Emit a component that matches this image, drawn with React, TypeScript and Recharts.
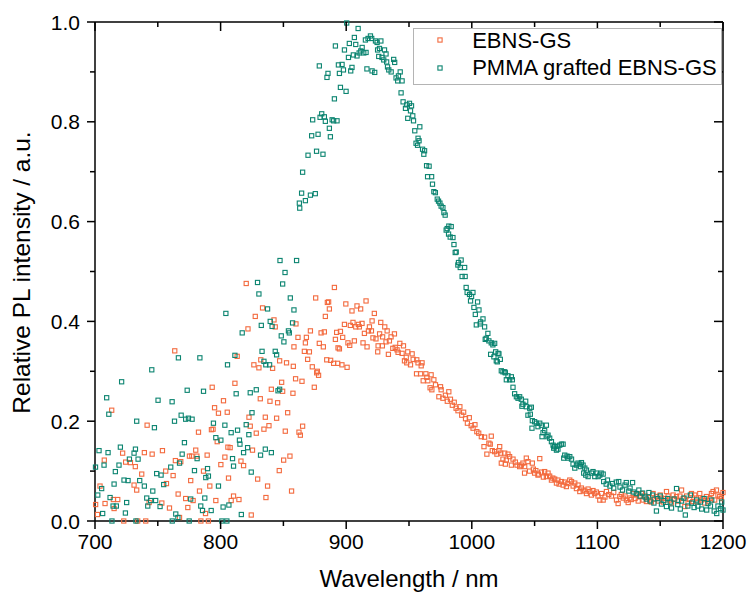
import React from 'react';
import { ScatterChart, Scatter, XAxis, YAxis, Legend } from 'recharts';

const FONT = '"Liberation Sans", Arial, Helvetica, sans-serif';

const seriesNames = ['EBNS-GS', 'PMMA grafted EBNS-GS'];
const seriesColors = ['#F36A3E', '#0B8470'];

const xTicks = [700, 750, 800, 850, 900, 950, 1000, 1050, 1100, 1150, 1200];
const yTicks = [0, 0.1, 0.2, 0.3, 0.4, 0.5, 0.6, 0.7, 0.8, 0.9, 1.0];

// EBNS-GS: [wavelength nm, relative intensity]
const ebnsLow: [number, number][] = [
  [700.5, 0.033], [702, 0.013], [704, 0.07], [707.4, 0.122], [708, 0.035], [713.3, 0.222], [714.6, 0.043],
  [715.2, 0.025], [718.1, 0.043], [722, 0.136], [722.9, 0], [724.4, 0.118], [728.2, 0.117], [731.1, 0.072],
  [732.1, 0.109], [733.2, 0.062], [734, 0], [737.2, 0.094], [739.3, 0.137], [740.4, 0], [741.5, 0.192],
  [743.1, 0.037], [745.5, 0.134], [753.2, 0.036], [753.7, 0.141], [756.3, 0.1], [756.9, 0.075], [759.3, 0.026],
  [762.2, 0.091], [763.5, 0.341], [764, 0.121], [766.2, 0.054], [767.3, 0.007], [768.3, 0.119], [772.2, 0.045],
  [773.9, 0.027], [775.2, 0.13], [776.2, 0.081], [777.1, 0.13], [778.1, 0.041], [780.2, 0.142], [781.1, 0.13],
  [782.4, 0.178], [783.2, 0.06], [784.3, 0], [786.4, 0.1], [788, 0.015], [789.3, 0.132], [790.3, 0], [791.4, 0.07],
  [792.7, 0.183], [793.3, 0.268], [794, 0.184], [795.2, 0.227], [796.2, 0.041], [797.3, 0.159], [798.3, 0.216],
  [800.2, 0.113],
];

const ebnsRise: [number, number][] = [
  [802.3, 0.241], [803.4, 0.128], [805.3, 0.218], [805.8, 0.148], [806.3, 0.086], [807.6, 0.147], [808.4, 0.041],
  [810.3, 0.05], [811.4, 0.276], [813.2, 0.33], [814.6, 0.043], [816.2, 0.12], [818.3, 0.111], [820.4, 0.476],
  [821.8, 0.385], [822.6, 0.208], [823.6, 0.19], [824.4, 0.012], [825.4, 0.142], [826.5, 0.313], [827.6, 0.41],
  [828.4, 0.176], [829.5, 0.084], [830.5, 0.307], [831.6, 0.245], [832, 0.323], [833.4, 0.427], [834.5, 0.184],
  [835.6, 0.208], [836.1, 0.047], [837.4, 0.07], [838.5, 0.191], [839.3, 0.24], [840.4, 0.264], [841.4, 0.306],
  [842.5, 0.403], [843.5, 0.389], [844.6, 0.206], [845.4, 0.237], [846.7, 0.101], [847, 0.321], [848.6, 0.278],
  [849.4, 0.26], [850.2, 0.122], [851.5, 0.18], [852.5, 0.317], [853.4, 0.217], [855.2, 0.13], [856.5, 0.06],
  [857.6, 0.256], [857.9, 0.31], [858.4, 0.349], [859.7, 0.285], [860, 0.395], [861.6, 0.368], [862.4, 0.178],
  [863.5, 0.172], [864.8, 0.28], [865.3, 0.19], [866.7, 0.34], [867.5, 0.357], [868.3, 0.368], [869.3, 0.324],
  [870.7, 0.339], [871.5, 0.381], [873, 0.309], [874.6, 0.268], [875.7, 0.447], [876.5, 0.297], [877, 0.3],
  [878, 0.292], [878.6, 0.356], [880, 0.377],
];

const ebnsPeak: [number, number][] = [
  [881.8, 0.349], [882.6, 0.379], [883.4, 0.41], [884.5, 0.323], [885, 0.438], [886.6, 0.425], [886, 0.439],
  [887.6, 0.322], [890, 0.316], [890.6, 0.468], [891.4, 0.364], [892.4, 0.378], [893.2, 0.316], [893.5, 0.347],
  [894.6, 0.345], [895.4, 0.38], [896.6, 0.313], [897.2, 0.368], [898.6, 0.394], [899.7, 0.435], [900.7, 0.308],
  [901.4, 0.357], [902.8, 0.352], [903.3, 0.392], [904.6, 0.421], [905.4, 0.398], [906.5, 0.361], [907.6, 0.389],
  [908.6, 0.431], [909.7, 0.394], [910.5, 0.389], [911.5, 0.425], [912.6, 0.396], [913.4, 0.357], [914.5, 0.376],
  [915.8, 0.441], [916.6, 0.349], [917.7, 0.381], [918.5, 0.389], [920.1, 0.381], [920.6, 0.401], [921.3, 0.367],
  [922.4, 0.416], [923.7, 0.365], [925.1, 0.339], [925.4, 0.351], [926.6, 0.375], [927.5, 0.398], [928.8, 0.351],
  [929, 0.369], [930.7, 0.389], [931.7, 0.359], [932.6, 0.381], [933.6, 0.334], [934.4, 0.361], [935.7, 0.369],
  [937.1, 0.346], [938.4, 0.375], [939, 0.348], [940.5, 0.343], [941.3, 0.338], [942.7, 0.356], [944.5, 0.336],
  [945.6, 0.351], [946.4, 0.321], [947.8, 0.328], [948.2, 0.317], [949, 0.339], [951.2, 0.313], [952.5, 0.335],
  [953.3, 0.324], [956, 0.295], [956.2, 0.323], [957.2, 0.317], [959.2, 0.295], [959.7, 0.311], [960.4, 0.317],
  [961.3, 0.281], [963.4, 0.295], [964.2, 0.288], [965, 0.281], [966.8, 0.267], [967.6, 0.293], [968.2, 0.263],
  [969.8, 0.283], [971.1, 0.273], [973.8, 0.249], [975.1, 0.269], [975.6, 0.263], [977, 0.246], [979, 0.252],
  [980.5, 0.24], [981.7, 0.259], [983, 0.244], [984.5, 0.232], [986, 0.238], [987.5, 0.226], [989, 0.221],
  [990.5, 0.229], [992, 0.212], [993.5, 0.218], [995, 0.205], [996.5, 0.196], [998, 0.207], [999.5, 0.191],
  [1001, 0.186], [1002.5, 0.193], [1004, 0.179], [1005.5, 0.176],
];

const ebnsTail: [number, number][] = [
  [1007.6, 0.169], [1009.7, 0.149], [1010.2, 0.168], [1012, 0.134], [1013.6, 0.156], [1014.7, 0.154], [1015.5, 0.17],
  [1016.3, 0.141], [1018.2, 0.139], [1020, 0.134], [1021.6, 0.141], [1022.2, 0.149], [1023, 0.136], [1023.5, 0.116],
  [1024.8, 0.124], [1026.2, 0.136], [1026.7, 0.114], [1027.5, 0.122], [1028.8, 0.134], [1030.1, 0.129], [1031.5, 0.112],
  [1032.8, 0.124], [1034.7, 0.118], [1036, 0.112], [1038.1, 0.109], [1039.4, 0.112], [1040.7, 0.116], [1042.1, 0.109],
  [1043.4, 0.126], [1044.7, 0.119], [1048.2, 0.116], [1054.1, 0.125], [1042, 0.096], [1046, 0.1], [1049, 0.104],
  [1050, 0.096], [1051, 0.101], [1052.7, 0.092], [1053, 0.094], [1055.5, 0.098], [1057, 0.088], [1058, 0.099],
  [1059.4, 0.089], [1060.7, 0.096], [1062, 0.09], [1063.4, 0.082], [1064.5, 0.086], [1066, 0.084], [1067.4, 0.076],
  [1068.6, 0.082], [1069.5, 0.074], [1071.4, 0.079], [1072.7, 0.072], [1074, 0.078], [1075.3, 0.069], [1076.5, 0.075],
  [1078, 0.082], [1079.4, 0.079], [1080.7, 0.07], [1082, 0.076], [1083.3, 0.065], [1084.6, 0.072], [1086, 0.059],
  [1087.3, 0.066], [1088.6, 0.062], [1090, 0.06], [1091.3, 0.055], [1092.6, 0.064], [1093.9, 0.059], [1095.2, 0.052],
  [1096.5, 0.061], [1097.9, 0.055], [1099.2, 0.058], [1100.5, 0.05], [1101.9, 0.042], [1103.3, 0.055], [1104.6, 0.042],
  [1106, 0.048], [1107.2, 0.059], [1109, 0.053], [1111.2, 0.05], [1113, 0.057], [1115.2, 0.042], [1116.5, 0.035],
  [1117.8, 0.049], [1119, 0.053], [1120.5, 0.046], [1122, 0.05], [1123.1, 0.042], [1124.5, 0.037], [1125.8, 0.046],
  [1127, 0.043], [1128.4, 0.055], [1130, 0.045], [1131.1, 0.052], [1132.5, 0.04], [1133.8, 0.049], [1135, 0.055],
  [1136.4, 0.042], [1138, 0.05], [1139, 0.039], [1140.5, 0.047], [1141.7, 0.042], [1143, 0.038], [1144.3, 0.055],
  [1145.7, 0.044], [1147, 0.049], [1148.5, 0.04], [1150, 0.052], [1151, 0.046], [1152.5, 0.038], [1154, 0.045],
  [1155, 0.059], [1156.3, 0.05], [1157.6, 0.042], [1159, 0.036], [1160.3, 0.052], [1161.6, 0.044], [1163, 0.049],
  [1164.4, 0.04], [1165.7, 0.05], [1167, 0.062], [1168.3, 0.045], [1169.6, 0.029], [1171, 0.05], [1172.2, 0.036],
  [1173.5, 0.043], [1174.9, 0.055], [1176, 0.039], [1177.5, 0.052], [1178.9, 0.046], [1180, 0.038], [1181.5, 0.055],
  [1182.9, 0.042], [1184, 0.045], [1185.5, 0.036], [1186.8, 0.049], [1188, 0.04], [1189.5, 0.045], [1190.8, 0.055],
  [1192.1, 0.059], [1193.4, 0.042], [1194.8, 0.062], [1196, 0.052], [1197.4, 0.049], [1198.7, 0.045], [1200, 0.057],
];

// PMMA grafted EBNS-GS
const pmmaLow: [number, number][] = [
  [700.4, 0.108], [702.2, 0.052], [703.2, 0.141], [705.3, 0.065], [706.1, 0.015], [707.2, 0.112], [709.3, 0.247],
  [710.4, 0.137], [711, 0.214], [712, 0.047], [713.5, 0], [714.4, 0.03], [715.2, 0.074], [716.2, 0.099], [717, 0.03],
  [719.1, 0.112], [720.2, 0.148], [721.2, 0.279], [723.1, 0.082], [724.2, 0.016], [725.2, 0.037], [726.3, 0.081],
  [727.4, 0.124], [731.1, 0.136], [732.2, 0.144], [732.6, 0], [733.2, 0.2], [734.3, 0.124], [735.6, 0.081],
  [739.3, 0.07], [741.2, 0.046], [742, 0.03], [744.3, 0.041], [745.2, 0.303], [746, 0.06], [747.3, 0.187],
  [748.3, 0.041], [749.1, 0.095], [750.2, 0.242], [751.8, 0.029], [752.6, 0.092], [754.7, 0.073], [760.3, 0.108],
  [761.4, 0.239], [761.5, 0], [763.3, 0.2], [764.3, 0.014], [766, 0.007], [766.4, 0.327], [767.3, 0.116],
  [768.6, 0.212], [769.4, 0.134], [771.2, 0.157], [772.2, 0.204], [773.4, 0.262], [774.4, 0.206], [775, 0],
  [776.2, 0.044], [777.3, 0.204], [779.2, 0.101], [781.3, 0.125], [783.5, 0.327], [784.2, 0.03], [785.6, 0.021],
  [786.4, 0.26], [787.4, 0.046], [788.2, 0.087], [789.6, 0.105], [790.3, 0.09], [792.5, 0.021], [794.3, 0.196],
  [796.2, 0.167], [798.3, 0.07], [800.2, 0.162],
];

const pmmaRise: [number, number][] = [
  [801, 0], [802, 0.028], [803.4, 0.192], [804.2, 0.416], [805, 0], [805.5, 0.313], [806.6, 0.032], [808.4, 0.177],
  [809.5, 0.125], [810.3, 0.11], [811.4, 0.332], [812.4, 0.255], [813.5, 0.182], [815, 0.162], [815.4, 0.154],
  [816.5, 0.013], [817.2, 0.377], [818.3, 0.137], [820.4, 0.193], [821.5, 0.147], [822.5, 0.173], [823.6, 0.257],
  [824.4, 0.098], [825, 0.217], [828.4, 0.263], [829.4, 0.478], [830.5, 0.455], [831.8, 0.132], [832.4, 0.392],
  [833, 0.34], [834.5, 0.32], [835.6, 0.144], [836, 0.313], [837.4, 0.425], [839, 0.313], [839.5, 0.4],
  [840.4, 0.137], [841, 0.39], [843.5, 0.34], [844.6, 0.333], [845.7, 0.261], [847, 0.264], [847.3, 0.522],
  [848.3, 0.371], [849.4, 0.475], [850.4, 0.359], [851.3, 0.498], [854, 0.381], [854.7, 0.377], [855.5, 0.447],
  [857.3, 0.397], [858.4, 0.423], [860.5, 0.522], [862.7, 0.637], [863, 0.627], [864.5, 0.657], [865.3, 0.699],
];

const pmmaPeak: [number, number][] = [
  [867.5, 0.642], [869.6, 0.733], [871.5, 0.653], [872.5, 0.772], [873.3, 0.804], [875.4, 0.656], [876.4, 0.741],
  [877.6, 0.775], [878.6, 0.912], [879.2, 0.809], [880.5, 0.816], [881.5, 0.735], [882.6, 0.81], [883.4, 0.801],
  [884.7, 0.889], [885.5, 0.897], [886.6, 0.787], [887.4, 0.77], [888.8, 0.804], [890, 0.802], [890.6, 0.846],
  [891.4, 0.952], [892.7, 0.802], [893.8, 0.914], [894.6, 0.897], [895.4, 0.869], [896.7, 0.915], [897.8, 0.904],
  [898.6, 0.944], [899.9, 0.861], [900.4, 0.998], [901.8, 0.929], [902.5, 0.957], [903.6, 0.902], [904.6, 0.909],
  [905.7, 0.934], [906.5, 0.969], [907.6, 0.955], [908.6, 0.932], [909.5, 0.987], [910.3, 0.938], [911.6, 0.942],
  [912.7, 0.949], [914, 0.938], [915.3, 0.964], [915.8, 0.939], [916.5, 0.906], [917.4, 0.967], [919.3, 0.972],
  [920.3, 0.967], [920.6, 0.902], [922.7, 0.899], [923.3, 0.962], [924.6, 0.959], [925, 0.944], [925.9, 0.931],
  [926.5, 0.947], [927.6, 0.962], [928.5, 0.929], [929.9, 0.924], [930.5, 0.944], [931.7, 0.936], [932.2, 0.92],
  [932.9, 0.91], [933.9, 0.904], [935.8, 0.9], [937.8, 0.925], [938.6, 0.919], [939.7, 0.888], [941, 0.882],
  [941.6, 0.892], [943, 0.9], [943.7, 0.858], [944.5, 0.882], [945.3, 0.84], [947.2, 0.827], [948.2, 0.834],
  [949, 0.807], [950.4, 0.837], [951.2, 0.822], [952, 0.832], [953, 0.812], [953.6, 0.802], [954.6, 0.782],
  [955.6, 0.757], [956.8, 0.753], [957.2, 0.767], [958, 0.762], [958.6, 0.79], [960.8, 0.745], [961.8, 0.735],
  [962.4, 0.742], [964, 0.712], [964.8, 0.69], [966, 0.711], [968, 0.69], [968.7, 0.675], [969.8, 0.66],
  [971, 0.658], [972.5, 0.645], [973.5, 0.641], [974.6, 0.637], [975.6, 0.631], [977, 0.628], [977.8, 0.618],
  [978.8, 0.613], [979.6, 0.583], [980.4, 0.586], [981.5, 0.575], [981.7, 0.591], [982.8, 0.569], [983.6, 0.59],
  [985, 0.568], [985.8, 0.554], [986.8, 0.538], [987.6, 0.539], [988.9, 0.513], [989.4, 0.518], [990.8, 0.508],
  [991.5, 0.523], [992.3, 0.49], [994.3, 0.508], [994.7, 0.49], [995.5, 0.468], [996.3, 0.458], [998.2, 0.454],
  [999, 0.441], [999.8, 0.45], [1000.9, 0.458], [1001.7, 0.428], [1002.8, 0.414], [1003.6, 0.393], [1004.6, 0.439],
  [1005.7, 0.423], [1006.7, 0.395], [1007, 0.399], [1008.9, 0.405],
];

const pmmaTail: [number, number][] = [
  [1010.2, 0.389], [1010.7, 0.364], [1011.5, 0.366], [1012.8, 0.376], [1013.6, 0.361], [1015, 0.334], [1015.5, 0.357],
  [1016.8, 0.353], [1017.6, 0.329], [1018.2, 0.356], [1019, 0.339], [1019.5, 0.321], [1020.3, 0.319], [1020.9, 0.336],
  [1021.6, 0.335], [1022.7, 0.324], [1023.5, 0.301], [1024.8, 0.299], [1026.2, 0.299], [1026.7, 0.297], [1027.5, 0.283],
  [1028.8, 0.291], [1030.1, 0.283], [1031.5, 0.289], [1032.3, 0.283], [1032.8, 0.268], [1034.1, 0.255], [1035.5, 0.249],
  [1036.8, 0.246], [1038.1, 0.249], [1039.4, 0.244], [1039.9, 0.23], [1040.7, 0.234], [1042.9, 0.24], [1043.4, 0.229],
  [1044.7, 0.212], [1046.1, 0.226], [1046.6, 0.214], [1047.4, 0.228], [1047.9, 0.186], [1048.2, 0.201], [1050, 0.199],
  [1051.4, 0.196], [1052.7, 0.189], [1054.1, 0.196], [1055.4, 0.192], [1055.9, 0.169], [1056.7, 0.177], [1058, 0.181],
  [1059.4, 0.192], [1059.9, 0.169], [1060.7, 0.172], [1062, 0.166], [1063.4, 0.159], [1064.7, 0.152], [1065.2, 0.146],
  [1066, 0.149], [1067.4, 0.142], [1067.9, 0.15], [1068.6, 0.144], [1070, 0.152], [1071.4, 0.154], [1072.7, 0.154],
  [1073.2, 0.126], [1074, 0.132], [1075.8, 0.13], [1076.6, 0.126], [1078, 0.129], [1079.4, 0.124], [1080.6, 0.114],
  [1082, 0.106], [1083.3, 0.112], [1084.6, 0.116], [1086, 0.114], [1086.5, 0.109], [1087.3, 0.117], [1088.6, 0.112],
  [1089.1, 0.096], [1090, 0.106], [1090.7, 0.092], [1091.3, 0.102], [1092.6, 0.089], [1095.3, 0.096], [1096.5, 0.099],
  [1097.9, 0.089], [1099.2, 0.096], [1100.6, 0.089], [1101.9, 0.092], [1103, 0.096], [1104.6, 0.094], [1105, 0.079],
  [1107, 0.074], [1108, 0.082], [1110, 0.07], [1112, 0.075], [1113, 0.066], [1115, 0.078], [1117, 0.079],
  [1118, 0.068], [1120, 0.062], [1122, 0.072], [1123, 0.077], [1125, 0.06], [1126, 0.066], [1128, 0.077],
  [1129, 0.058], [1131, 0.055], [1133, 0.062], [1134, 0.05], [1136, 0.056], [1138, 0.048], [1139, 0.044],
  [1141, 0.057], [1142, 0.04], [1144, 0.052], [1145, 0.036], [1147, 0.02], [1148, 0.045], [1150, 0.05],
  [1151, 0.034], [1153, 0.041], [1155, 0.029], [1156, 0.045], [1158, 0.038], [1159, 0.026], [1161, 0.044],
  [1163, 0.065], [1164, 0.033], [1166, 0.024], [1167, 0.04], [1169, 0.046], [1170, 0.012], [1172, 0.03],
  [1174, 0.052], [1175, 0.036], [1177, 0.027], [1179, 0.042], [1180, 0.03], [1182, 0.038], [1183, 0.024],
  [1185, 0.045], [1187, 0.022], [1188, 0.035], [1190, 0.03], [1191, 0.042], [1193, 0.02], [1195, 0.015],
  [1196, 0.03], [1198, 0.025], [1199, 0.038], [1200, 0.022],
];

const toPoints = (rows: [number, number][]) => rows.map(([x, y]) => ({ x, y }));

const ebnsData = toPoints([...ebnsLow, ...ebnsRise, ...ebnsPeak, ...ebnsTail]);
const pmmaData = toPoints([...pmmaLow, ...pmmaRise, ...pmmaPeak, ...pmmaTail]);

const AXIS = { stroke: '#000', strokeWidth: 1.5 };

// small open square marker
const openSquare = (color: string) => (props: any) => {
  const { cx, cy } = props;
  if (cx == null || cy == null) return <g />;
  return (
    <rect x={cx - 2.1} y={cy - 2.1} width={4.2} height={4.2} fill="none" stroke={color} strokeWidth={1.1} />
  );
};

const isMajorX = (v: number) => v % 100 === 0;
const isMajorY = (v: number) => Math.round(v * 10) % 2 === 0;

const BottomTick = (props: any) => {
  const { x, y, payload } = props;
  const major = isMajorX(payload.value);
  return (
    <g>
      <line x1={x} y1={y} x2={x} y2={y + (major ? 8 : 5)} stroke="#000" strokeWidth={1.5} />
      {major && (
        <text x={x} y={y + 28} textAnchor="middle" fontSize={21} fontFamily={FONT} fill="#000">
          {payload.value}
        </text>
      )}
    </g>
  );
};

const TopTick = (props: any) => {
  const { x, y, payload } = props;
  const major = isMajorX(payload.value);
  return <line x1={x} y1={y} x2={x} y2={y + (major ? 9 : 5)} stroke="#000" strokeWidth={1.5} />;
};

const LeftTick = (props: any) => {
  const { x, y, payload } = props;
  const major = isMajorY(payload.value);
  return (
    <g>
      <line x1={x} y1={y} x2={x - (major ? 8 : 5)} y2={y} stroke="#000" strokeWidth={1.5} />
      {major && (
        <text x={x - 15} y={y + 7.5} textAnchor="end" fontSize={21} fontFamily={FONT} fill="#000">
          {payload.value.toFixed(1)}
        </text>
      )}
    </g>
  );
};

const RightTick = (props: any) => {
  const { x, y, payload } = props;
  const major = isMajorY(payload.value);
  return <line x1={x} y1={y} x2={x - (major ? 9 : 5)} y2={y} stroke="#000" strokeWidth={1.5} />;
};

const xTitle = (props: any) => {
  const vb = props.viewBox;
  return (
    <text x={vb.x + vb.width / 2} y={vb.y + 66} textAnchor="middle" fontSize={24} fontFamily={FONT} fill="#000">
      Wavelength / nm
    </text>
  );
};

const yTitle = (props: any) => {
  const vb = props.viewBox;
  const cx = vb.x + 29.5;
  const cy = vb.y + vb.height / 2 + 1;
  return (
    <text x={cx} y={cy} transform={`rotate(-90, ${cx}, ${cy})`} textAnchor="middle" fontSize={24.5} fontFamily={FONT} fill="#000">
      Relative PL intensity / a.u.
    </text>
  );
};

const rowCenters = [13.3, 40.6];

const LegendBox = () => (
  <div
    style={{
      position: 'relative',
      width: 309,
      height: 57,
      boxSizing: 'border-box',
      border: '1.5px solid #b4b4b4',
      background: '#fff',
      fontFamily: FONT,
      fontSize: 22,
      color: '#000',
    }}
  >
    {seriesNames.map((name, i) => (
      <React.Fragment key={name}>
        <svg width={8} height={8} style={{ position: 'absolute', left: 28 - 1.5 - 4, top: rowCenters[i] - 1.5 - 4 }}>
          <rect x={1.9} y={1.9} width={4.2} height={4.2} fill="none" stroke={seriesColors[i]} strokeWidth={1.1} />
        </svg>
        <span
          style={{
            position: 'absolute',
            left: 60 - 1.5,
            top: rowCenters[i] - 1.5 - 10.75,
            lineHeight: '22px',
            whiteSpace: 'nowrap',
          }}
        >
          {name}
        </span>
      </React.Fragment>
    ))}
  </div>
);

export default function App() {
  return (
    <div style={{ position: 'absolute', left: 0, top: 0, width: 747, height: 594, background: '#fff' }}>
      <ScatterChart width={747} height={594} margin={{ top: 10, right: 10, bottom: 0, left: 0 }}>
        <XAxis
          type="number"
          dataKey="x"
          domain={[700, 1200]}
          ticks={xTicks}
          interval={0}
          height={73}
          tickSize={0}
          tickMargin={0}
          tickLine={false}
          axisLine={AXIS}
          tick={BottomTick}
          label={{ content: xTitle }}
        />
        <XAxis
          xAxisId="top"
          orientation="top"
          type="number"
          dataKey="x"
          domain={[700, 1200]}
          allowDataOverflow
          ticks={xTicks}
          interval={0}
          height={12}
          tickSize={0}
          tickMargin={0}
          tickLine={false}
          axisLine={AXIS}
          tick={TopTick}
        />
        <YAxis
          type="number"
          dataKey="y"
          domain={[0, 1]}
          ticks={yTicks}
          interval={0}
          width={95}
          tickSize={0}
          tickMargin={0}
          tickLine={false}
          axisLine={AXIS}
          tick={LeftTick}
          label={{ content: yTitle }}
        />
        <YAxis
          yAxisId="right"
          orientation="right"
          type="number"
          dataKey="y"
          domain={[0, 1]}
          allowDataOverflow
          ticks={yTicks}
          interval={0}
          width={14}
          tickSize={0}
          tickMargin={0}
          tickLine={false}
          axisLine={AXIS}
          tick={RightTick}
        />
        <Legend
          layout="vertical"
          align="center"
          verticalAlign="middle"
          wrapperStyle={{ left: 412.7, top: 27.7, width: 309, height: 57 }}
          content={() => <LegendBox />}
        />
        <Scatter name={seriesNames[0]} data={ebnsData} shape={openSquare(seriesColors[0])} isAnimationActive={false} />
        <Scatter name={seriesNames[1]} data={pmmaData} shape={openSquare(seriesColors[1])} isAnimationActive={false} />
      </ScatterChart>
    </div>
  );
}
